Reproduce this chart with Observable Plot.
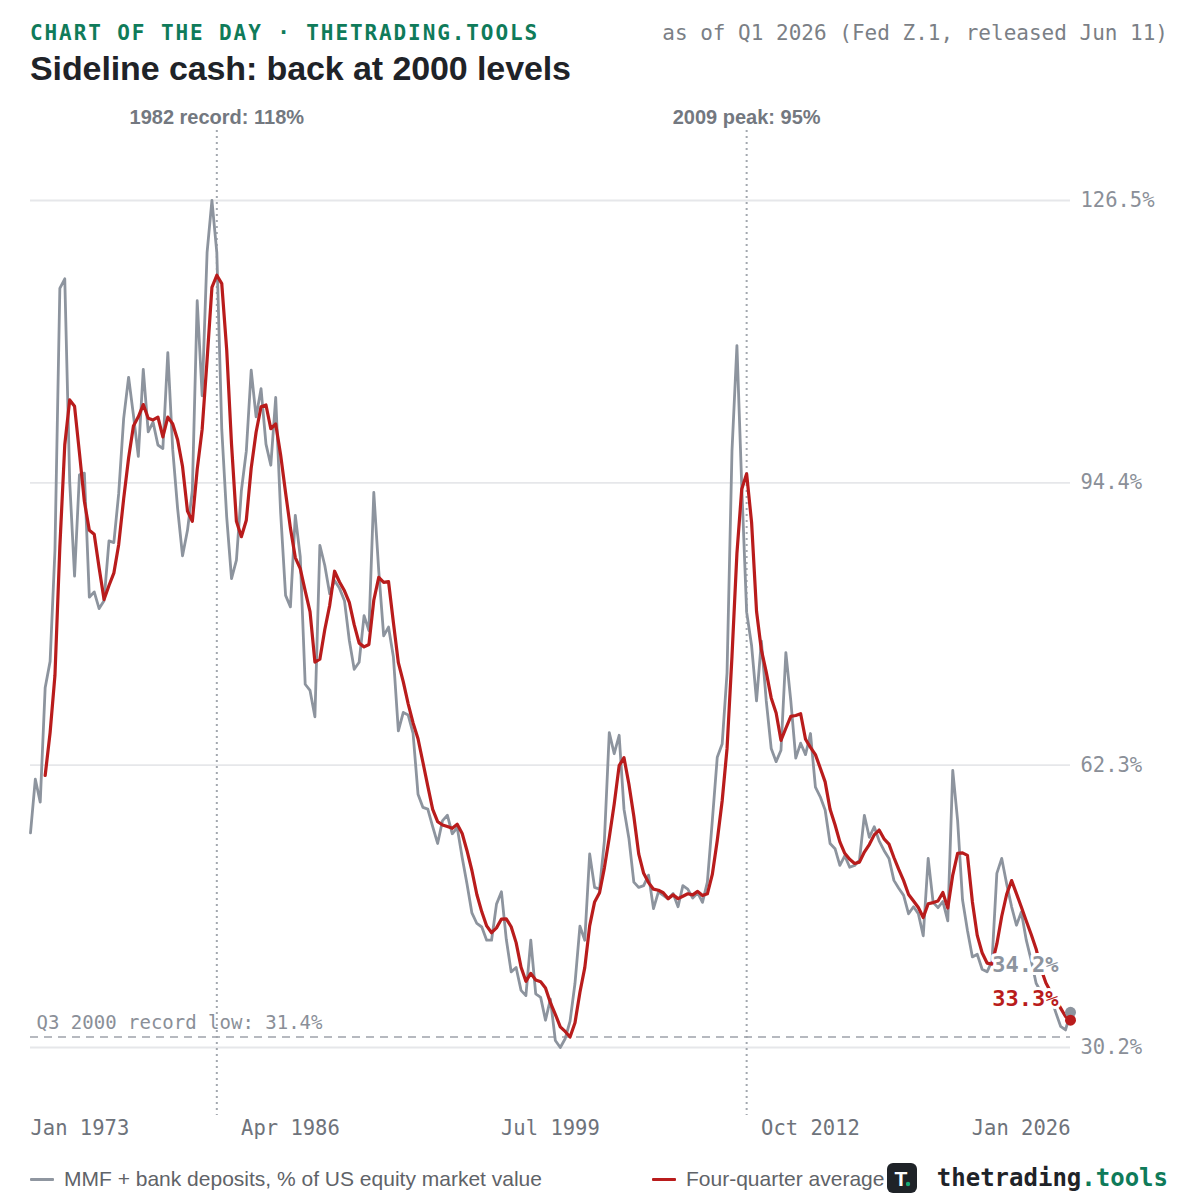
<!DOCTYPE html>
<html>
<head>
<meta charset="utf-8">
<script src="https://cdn.jsdelivr.net/npm/d3@7"></script>
<script src="https://cdn.jsdelivr.net/npm/@observablehq/plot@0.6"></script>
<style>
  body { margin: 0; background: #fff; }
  #wrap { position: relative; width: 1200px; height: 1200px; overflow: hidden; font-family: "Liberation Sans", Arial, sans-serif; }
  .kicker { position: absolute; left: 30px; top: 23px; font: bold 21px/1 "DejaVu Sans Mono", monospace; letter-spacing: 1.9px; color: #0f7b5a; white-space: nowrap; }
  .asof { position: absolute; right: 32px; top: 23px; font: 21px/1 "DejaVu Sans Mono", monospace; color: #7b7f86; white-space: nowrap; }
  .title { position: absolute; left: 30px; top: 51px; font: bold 34px/1 "Liberation Sans", Arial, sans-serif; letter-spacing: -0.1px; color: #1f2328; white-space: nowrap; }
  #chart { position: absolute; left: 0; top: 95px; }
  .leg { position: absolute; top: 1164px; height: 30px; display: flex; align-items: center; font: 21px "Liberation Sans", Arial, sans-serif; color: #5f6368; white-space: nowrap; }
  .sw { display: inline-block; width: 24px; height: 3px; margin-right: 10px; border-radius: 1px; }
  .brand { position: absolute; right: 32px; top: 1163px; height: 30px; display: flex; align-items: center; }
  .brand .name { margin-left: 20px; font: bold 24px/1 "DejaVu Sans Mono", monospace; color: #1f2328; }
  .brand .name span { color: #0f7b5a; }
</style>
</head>
<body>
<div id="wrap">
  <div class="kicker">CHART OF THE DAY · THETRADING.TOOLS</div>
  <div class="asof">as of Q1 2026 (Fed Z.1, released Jun 11)</div>
  <div class="title">Sideline cash: back at 2000 levels</div>
  <div id="chart"></div>
  <div class="leg" style="left:30px"><span class="sw" style="background:#8f96a0"></span>MMF + bank deposits, % of US equity market value</div>
  <div class="leg" style="left:652px"><span class="sw" style="background:#b91c1c"></span>Four-quarter average</div>
  <div class="brand">
    <svg width="30" height="30" viewBox="0 0 30 30">
      <rect x="0" y="0" width="30" height="30" rx="6" fill="#1f2328"></rect>
      <text x="14" y="22.5" text-anchor="middle" font-family="Liberation Sans, Arial, sans-serif" font-weight="bold" font-size="21" fill="#fff">T</text>
      <circle cx="21" cy="21" r="2.2" fill="#19a974"></circle>
    </svg>
    <div class="name">thetrading<span>.tools</span></div>
  </div>
</div>
<script>
// MMF + bank deposits as % of US equity market value, quarterly from 1973 Q1
const cash1970s = [54.6, 60.7, 58.1, 71.1, 74.1, 86.7, 116.5, 117.6, 94.5, 83.8, 95.3, 95.5, 81.4, 82.0, 80.1, 81.0, 87.8, 87.6, 93.2, 101.7, 106.4, 102.1, 97.4, 107.3, 100.2, 101.3, 98.7, 98.3];
const cash1980s = [109.2, 98.2, 91.5, 86.1, 89.0, 93.5, 115.1, 104.3, 120.6, 126.5, 120.6, 100.5, 90.5, 83.5, 85.6, 93.5, 98.0, 107.2, 101.9, 105.1, 98.8, 96.4, 104.1, 91.0, 81.6, 80.3, 90.7, 86.0, 71.5, 70.8, 67.8, 87.3, 85.0, 81.8, 83.3, 82.4, 81.0, 76.5, 73.2, 74.0];
const cash1990s = [79.3, 77.6, 93.3, 84.4, 77.0, 78.0, 74.6, 66.2, 68.3, 68.0, 65.9, 59.0, 57.5, 57.3, 55.3, 53.4, 56.0, 56.6, 54.5, 55.2, 51.8, 48.8, 45.5, 44.3, 43.9, 42.4, 42.4, 46.5, 47.9, 42.5, 38.8, 39.3, 36.7, 36.1, 42.4, 36.3, 35.9, 33.3, 35.7, 31.0];
const cash2000s = [30.2, 31.2, 33.2, 37.5, 44.0, 42.4, 52.2, 48.4, 48.2, 53.7, 66.0, 63.6, 65.7, 57.3, 54.0, 49.0, 48.4, 48.6, 49.8, 46.0, 47.9, 47.5, 47.1, 47.7, 46.2, 48.6, 48.2, 47.2, 47.8, 46.7, 49.0, 56.0, 63.2, 64.7, 72.8, 98.0, 110.0, 94.0, 79.7, 75.9];
const cash2010s = [69.6, 76.4, 69.6, 64.2, 62.7, 64.0, 75.1, 69.6, 63.1, 64.8, 63.5, 65.9, 59.8, 58.7, 57.2, 53.4, 52.8, 50.9, 52.0, 50.7, 50.9, 51.5, 56.6, 54.1, 55.3, 53.7, 52.6, 51.7, 49.2, 48.3, 47.5, 45.4, 46.2, 45.4, 42.9, 51.7, 46.7, 46.1, 46.8, 44.6];
const cash2020s = [61.7, 56.0, 47.0, 43.5, 40.5, 40.8, 39.1, 38.8, 40.0, 50.0, 51.7, 48.8, 46.2, 44.1, 45.6, 42.4, 40.1, 37.5, 36.5, 36.0, 35.9, 34.2, 32.6, 32.2, 34.2];

const firstYear = 1973;
const yTickValues = [30.2, 62.3, 94.4, 126.5];
const xTickDates = ["1973-01-01", "1986-04-01", "1999-07-01", "2012-10-01", "2026-01-01"];

const mmfDepositsPct = [...cash1970s, ...cash1980s, ...cash1990s, ...cash2000s, ...cash2010s, ...cash2020s];
const quarters = mmfDepositsPct.map((v, i) => ({
  date: new Date(Date.UTC(firstYear + Math.floor(i / 4), (i % 4) * 3, 1)),
  value: v
}));
const fourQuarterAvg = quarters.slice(3).map((d, j) => ({
  date: d.date,
  value: d3.mean(mmfDepositsPct.slice(j, j + 4))
}));

const yr = d => d.date.getUTCFullYear();
const rec = d3.greatest(fourQuarterAvg.filter(d => yr(d) < 1990), d => d.value);
const peak = d3.greatest(fourQuarterAvg.filter(d => yr(d) >= 2005 && yr(d) <= 2012), d => d.value);
const low = d3.least(fourQuarterAvg, d => d.value);
const annotations = [
  {date: rec.date, label: `${yr(rec)} record: ${Math.round(rec.value)}%`},
  {date: peak.date, label: `${yr(peak)} peak: ${Math.round(peak.value)}%`}
];
const lowLabel = `Q${Math.floor(low.date.getUTCMonth() / 3) + 1} ${yr(low)} record low: ${low.value.toFixed(1)}%`;
const lastGray = quarters[quarters.length - 1];
const lastAvg = fourQuarterAvg[fourQuarterAvg.length - 1];

const mono = "DejaVu Sans Mono, monospace";
const sans = "Liberation Sans, Arial, sans-serif";
const GRAY = "#8d949e", RED = "#b91c1c";
const ticks = xTickDates.map(s => new Date(s));
const fmtX = d3.utcFormat("%b %Y");
const xTickOpts = {x: d => d, frameAnchor: "bottom", lineAnchor: "top", dy: 5, text: d => fmtX(d), fontFamily: mono, fontSize: 20.5, fill: "#6e737b"};

const chart = Plot.plot({
  width: 1200,
  height: 1060,
  marginTop: 35,
  marginBottom: 40,
  marginLeft: 30,
  marginRight: 130,
  style: {background: "#fff", overflow: "visible"},
  x: {type: "utc", domain: [quarters[0].date, lastGray.date], axis: null},
  y: {domain: [yTickValues[0], yTickValues[yTickValues.length - 1]], range: [952, 105], axis: null},
  marks: [
    Plot.ruleY(yTickValues, {y: d => d, stroke: "#e6e7ea", strokeWidth: 1.8}),
    Plot.text(yTickValues, {y: d => d, frameAnchor: "right", dx: 10, textAnchor: "start", text: d => d.toFixed(1) + "%", fontFamily: mono, fontSize: 20.5, fill: "#8a8f98"}),
    Plot.text(ticks.slice(0, 1), {...xTickOpts, textAnchor: "start"}),
    Plot.text(ticks.slice(1, -1), {...xTickOpts, textAnchor: "middle"}),
    Plot.text(ticks.slice(-1), {...xTickOpts, textAnchor: "end"}),
    Plot.ruleX(annotations, {x: "date", stroke: "#a3a8af", strokeWidth: 2, strokeDasharray: "2,4"}),
    Plot.text(annotations, {x: "date", frameAnchor: "top", dy: -21, text: "label", fontFamily: sans, fontWeight: "bold", fontSize: 20, fill: "#737880"}),
    Plot.ruleY([low], {y: "value", stroke: "#9ea3aa", strokeWidth: 1.6, strokeDasharray: "8,6"}),
    Plot.text([low], {y: "value", frameAnchor: "left", dx: 6, dy: -14, textAnchor: "start", text: () => lowLabel, fontFamily: mono, fontSize: 19, fill: "#8a8f98"}),
    Plot.line(quarters, {x: "date", y: "value", stroke: GRAY, strokeWidth: 2.8}),
    Plot.line(fourQuarterAvg, {x: "date", y: "value", stroke: RED, strokeWidth: 3.2}),
    Plot.text([lastGray], {x: "date", y: "value", dx: -12, dy: -47, textAnchor: "end", text: d => d.value.toFixed(1) + "%", fill: GRAY, stroke: "#fff", strokeWidth: 6, fontFamily: mono, fontWeight: "bold", fontSize: 22}),
    Plot.text([lastAvg], {x: "date", y: "value", dx: -12, dy: -21, textAnchor: "end", text: d => d.value.toFixed(1) + "%", fill: RED, stroke: "#fff", strokeWidth: 6, fontFamily: mono, fontWeight: "bold", fontSize: 22}),
    Plot.dot([lastGray], {x: "date", y: "value", r: 5.5, fill: GRAY}),
    Plot.dot([lastAvg], {x: "date", y: "value", r: 5.5, fill: RED})
  ]
});
document.getElementById("chart").appendChild(chart);
</script>
</body>
</html>
